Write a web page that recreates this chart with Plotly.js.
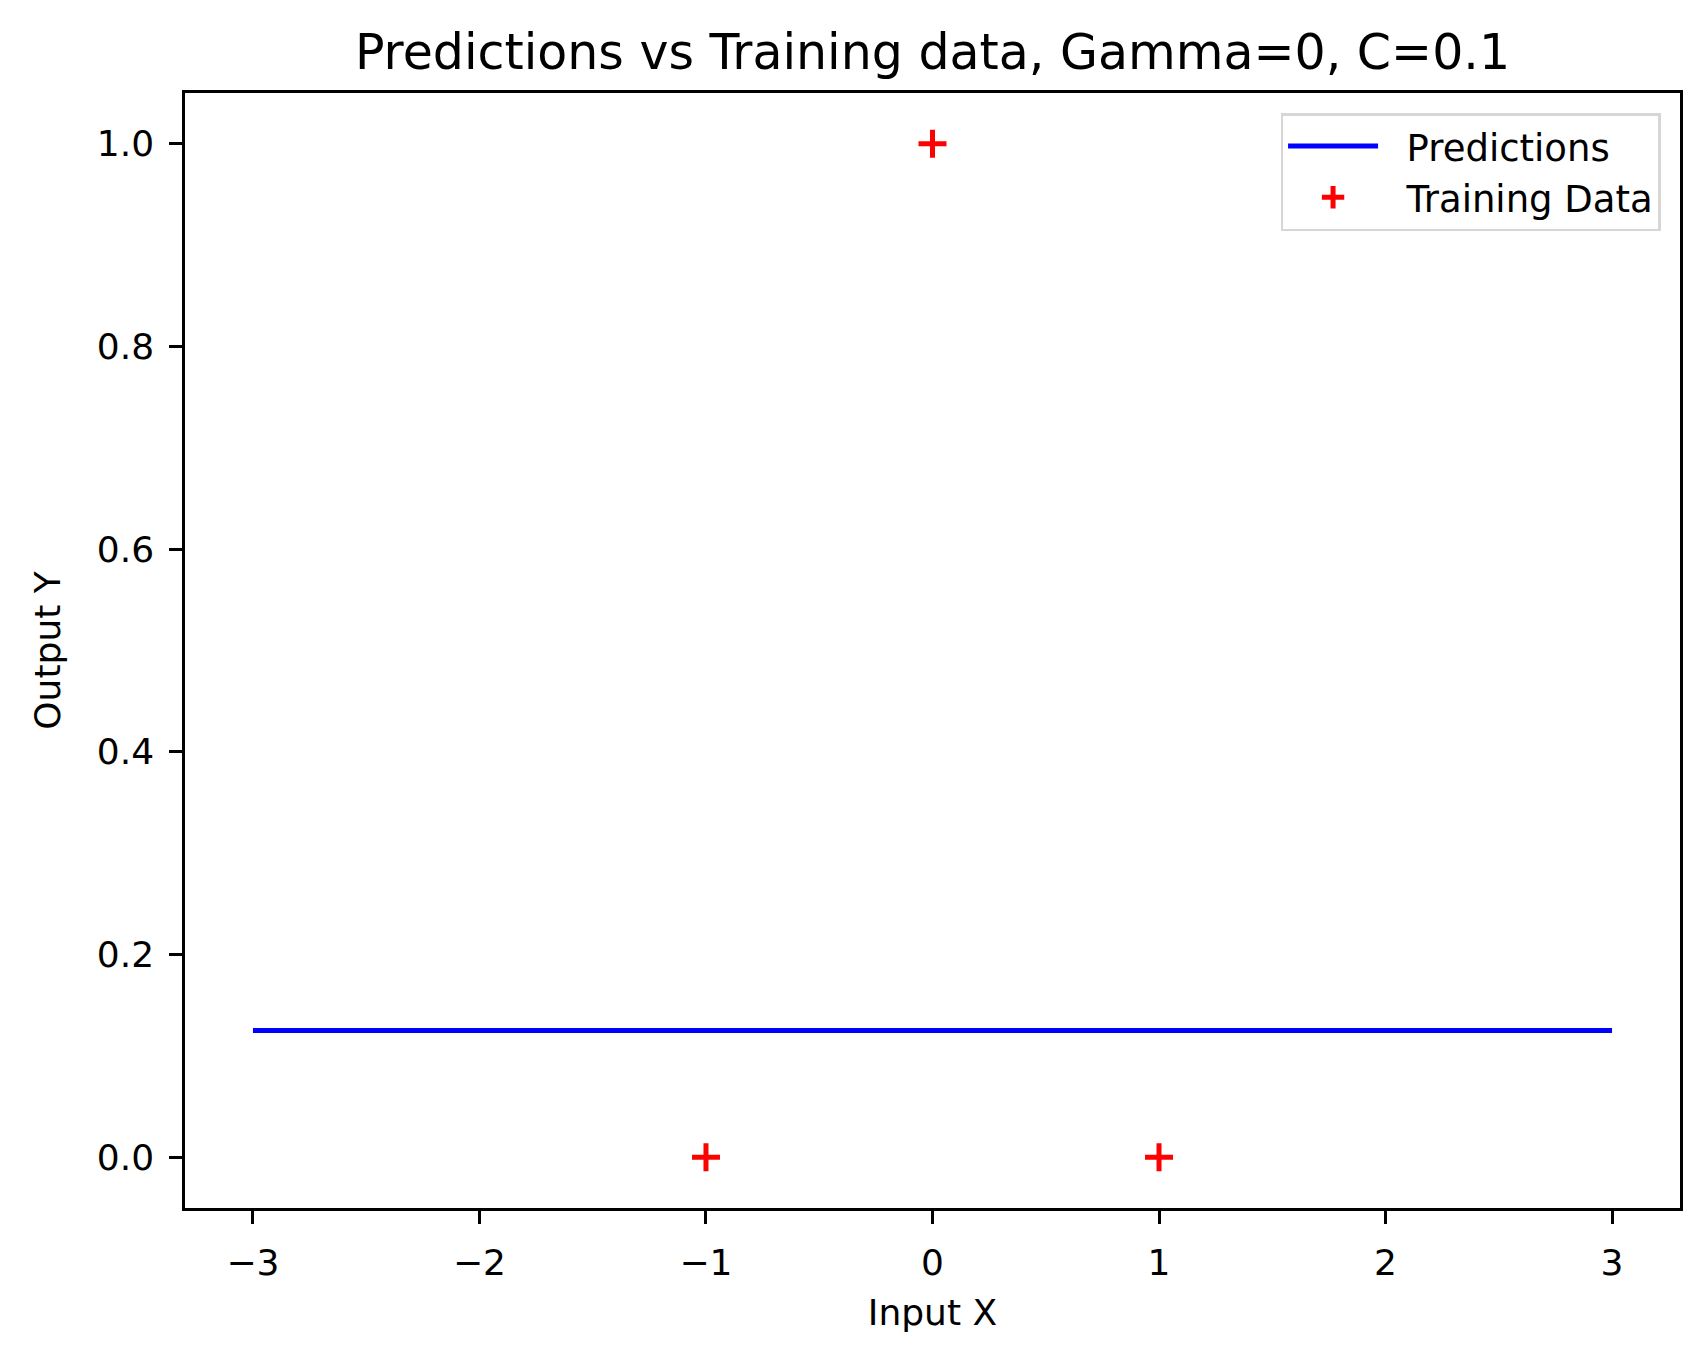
<!DOCTYPE html>
<html>
<head>
<meta charset="utf-8">
<script src="https://cdn.plot.ly/plotly-3.0.1.min.js"></script>
<style>body{margin:0;background:#fff}</style>
</head>
<body>
<div id="chart" style="width:1702px;height:1361px"></div>
<script>
// Training data
const trainX = [-1, 0, 1];
const trainY = [0, 1, 0];

// Predictions (flat line, gamma=0)
const predX = [-3, 3];
const predY = [0.125, 0.125];

const font = "DejaVu Sans, sans-serif";

const tracePred = {
    x: predX, y: predY, mode: 'lines', name: '  Predictions',
    line: {color: 'blue', width: 5}
};
const traceTrain = {
    x: trainX, y: trainY, mode: 'markers', name: '  Training Data',
    marker: {symbol: 'cross-thin', size: 20, color: 'red', line: {color: 'red', width: 5}}
};

const axis = {
    showgrid: false, zeroline: false,
    showline: true, mirror: true, linecolor: 'black', linewidth: 2.5,
    ticks: 'outside', ticklen: 13, tickwidth: 2.5, tickcolor: 'black',
    ticklabelstandoff: 8,
    tickfont: {family: font, size: 36, color: 'black'}
};

const layout = {
    width: 1702, height: 1361,
    paper_bgcolor: 'white', plot_bgcolor: 'white',
    margin: {l: 185, r: 22, t: 93, b: 153},
    title: {text: 'Predictions vs Training data, Gamma=0, C=0.1', font: {family: font, size: 49, color: 'black'},
            x: 0.5, xref: 'paper', y: 1 - 52 / 1361, yref: 'container', yanchor: 'middle'},
    xaxis: {...axis, range: [-3.3, 3.3], tickvals: [-3, -2, -1, 0, 1, 2, 3],
            ticktext: ['\u22123', '\u22122', '\u22121', '0', '1', '2', '3'],
            title: {text: 'Input X', font: {family: font, size: 36, color: 'black'}, standoff: 18}},
    yaxis: {...axis, range: [-0.05, 1.05], tickvals: [0, 0.2, 0.4, 0.6, 0.8, 1.0],
            ticktext: ['0.0', '0.2', '0.4', '0.6', '0.8', '1.0'],
            title: {text: 'Output Y', font: {family: font, size: 36, color: 'black'}, standoff: 26}},
    showlegend: true,
    legend: {x: 0.987, y: 0.982, xanchor: 'right', yanchor: 'top',
             bordercolor: '#d6d6d6', borderwidth: 2.5, bgcolor: 'white', itemwidth: 90,
             font: {family: font, size: 37, color: 'black'}, tracegroupgap: 0}
};

Plotly.newPlot('chart', [tracePred, traceTrain], layout, {displayModeBar: false});
</script>
</body>
</html>
